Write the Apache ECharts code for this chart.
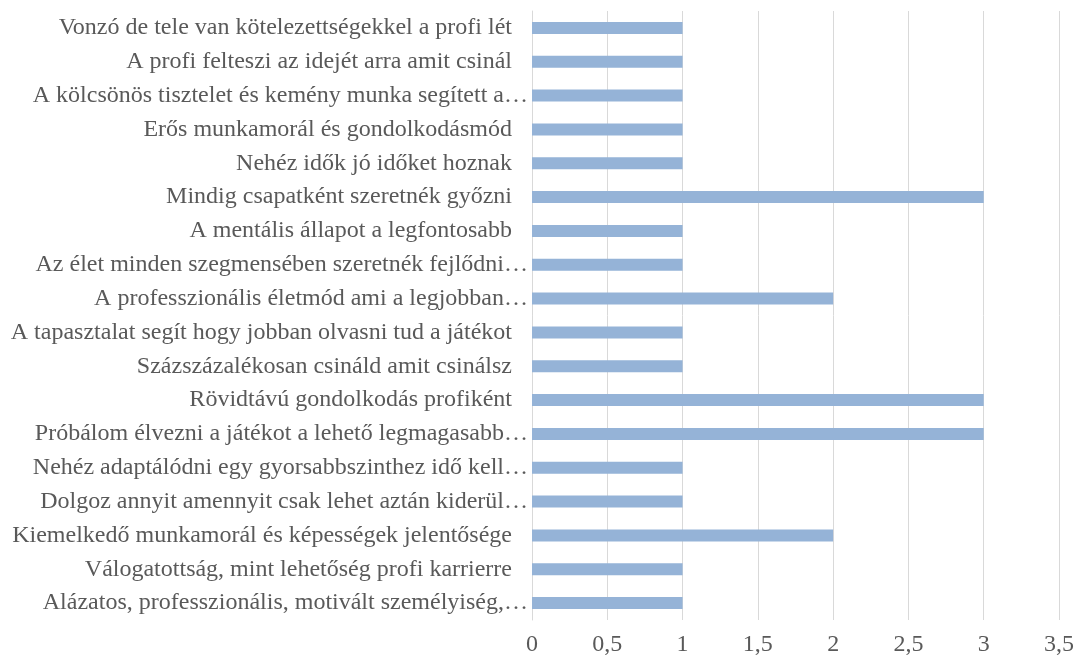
<!DOCTYPE html>
<html>
<head>
<meta charset="utf-8">
<script src="https://cdn.jsdelivr.net/npm/echarts@6/dist/echarts.min.js"></script>
<style>
  html, body { margin: 0; padding: 0; background: #fff; }
  #chart { width: 1077px; height: 660px; }
</style>
</head>
<body>
<div id="chart"></div>
<script>
// kategóriák fentről lefelé
var categories = [
  "Vonzó de tele van kötelezettségekkel a profi lét",
  "A profi felteszi az idejét arra amit csinál",
  "A kölcsönös tisztelet és kemény munka segített a…",
  "Erős munkamorál és gondolkodásmód",
  "Nehéz idők jó időket hoznak",
  "Mindig csapatként szeretnék győzni",
  "A mentális állapot a legfontosabb",
  "Az élet minden szegmensében szeretnék fejlődni…",
  "A professzionális életmód ami a legjobban…",
  "A tapasztalat segít hogy jobban olvasni tud a játékot",
  "Százszázalékosan csináld amit csinálsz",
  "Rövidtávú gondolkodás profiként",
  "Próbálom élvezni a játékot a lehető legmagasabb…",
  "Nehéz adaptálódni egy gyorsabbszinthez idő kell…",
  "Dolgoz annyit amennyit csak lehet aztán kiderül…",
  "Kiemelkedő munkamorál és képességek jelentősége",
  "Válogatottság, mint lehetőség profi karrierre",
  "Alázatos, professzionális, motivált személyiség,…"
];
var values = [1, 1, 1, 1, 1, 3, 1, 1, 2, 1, 1, 3, 3, 1, 1, 2, 1, 1];

var fontFam = "'Liberation Serif', 'Times New Roman', serif";

var myChart = echarts.init(document.getElementById('chart'));
var option = {
  animation: false,
  grid: { left: 532, right: 16, top: 11, bottom: 40, containLabel: false },
  xAxis: {
    type: 'value',
    min: 0,
    max: 3.5,
    interval: 0.5,
    axisLine: { show: false },
    axisTick: { show: false },
    splitLine: { show: true, lineStyle: { color: '#d9d9d9', width: 1 } },
    axisLabel: {
      color: '#595959',
      fontFamily: fontFam,
      fontSize: 24,
      margin: 13,
      formatter: function (v) { return String(v).replace('.', ','); }
    }
  },
  yAxis: {
    type: 'category',
    inverse: true,
    data: categories,
    axisLine: { show: true, lineStyle: { color: '#d9d9d9' } },
    axisTick: { show: false },
    axisLabel: {
      color: '#595959',
      fontFamily: fontFam,
      fontSize: 24,
      margin: 4,
      interval: 0,
      // a levágott (…) feliratok közelebb érnek a tengelyhez
      formatter: function (v) {
        return v.charAt(v.length - 1) === '…' ? '{e|' + v + '}' : '{p|' + v + '}';
      },
      rich: {
        e: { color: '#595959', fontFamily: fontFam, fontSize: 24 },
        p: { color: '#595959', fontFamily: fontFam, fontSize: 24, padding: [0, 16, 0, 0] }
      }
    }
  },
  series: [{
    type: 'bar',
    data: values,
    barWidth: 12,
    itemStyle: { color: '#95b3d7' }
  }]
};
myChart.setOption(option);
</script>
</body>
</html>
